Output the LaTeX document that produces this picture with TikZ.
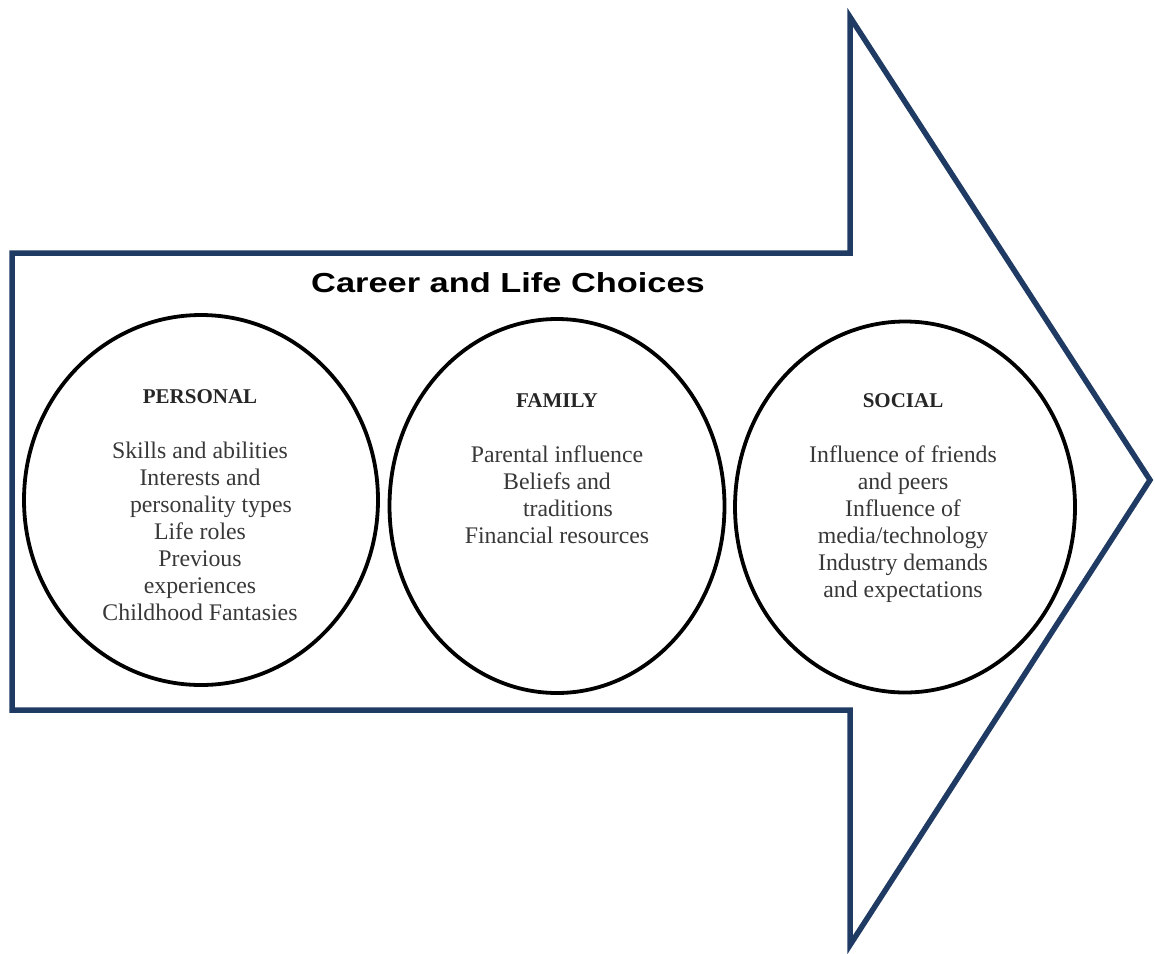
\documentclass[tikz,border=0pt]{standalone}
\usepackage{fontspec}
\setmainfont{Liberation Serif}
\newfontfamily\titlefont{Liberation Sans}
\usetikzlibrary{shapes.geometric,positioning}
\definecolor{arrowblue}{HTML}{1F3B63}
\tikzset{
	bubble/.style={draw=black,line width=3.8pt,ellipse,inner sep=0pt},
	headtxt/.style={font=\fontsize{21}{24}\selectfont\bfseries,text=black!85,anchor=base,inner sep=0pt},
	bodytxt/.style={font=\fontsize{23.8}{27}\selectfont,text=black!78,anchor=base,inner sep=0pt}
}
\begin{document}
\begin{tikzpicture}[x=1pt,y=-1pt,line join=miter]
	\useasboundingbox (0,0) rectangle (1155,953);
	% big arrow
	\draw[arrowblue,line width=5.5pt] (12,253)--(850,253)--(850,17)--(1150,480)--(850,945)--(850,710)--(12,710)--cycle;
	\node[font=\titlefont\bfseries\fontsize{27.5}{30}\selectfont,xscale=1.25,anchor=base] (title) at (508,292) {Career and Life Choices};
	% three circles
	\node[bubble,minimum width=354pt,minimum height=370pt] (personal) at (201,500) {};
	\node[bubble,minimum width=335pt,minimum height=374pt] (family) at (557,506) {};
	\node[bubble,minimum width=340pt,minimum height=371pt] (social) at (905,507) {};
	\node[headtxt] (personalhead) at (200,403) {PERSONAL};
	\node[headtxt] (familyhead) at (557,407) {FAMILY};
	\node[headtxt] (socialhead) at (903,407) {SOCIAL};
	\foreach \t [count=\i] in {Skills and abilities,Interests and,{\hspace*{22pt}personality types},Life roles,Previous,experiences,Childhood Fantasies}
		\node[bodytxt] (personal-\i) at (200,{458+27*(\i-1)}) {\t};
	\foreach \t [count=\i] in {Parental influence,Beliefs and,{\hspace*{22pt}traditions},Financial resources}
		\node[bodytxt] (family-\i) at (557,{462+27*(\i-1)}) {\t};
	\foreach \t [count=\i] in {Influence of friends,and peers,Influence of,media/technology,Industry demands,and expectations}
		\node[bodytxt] (social-\i) at (903,{462+27*(\i-1)}) {\t};
\end{tikzpicture}
\end{document}
